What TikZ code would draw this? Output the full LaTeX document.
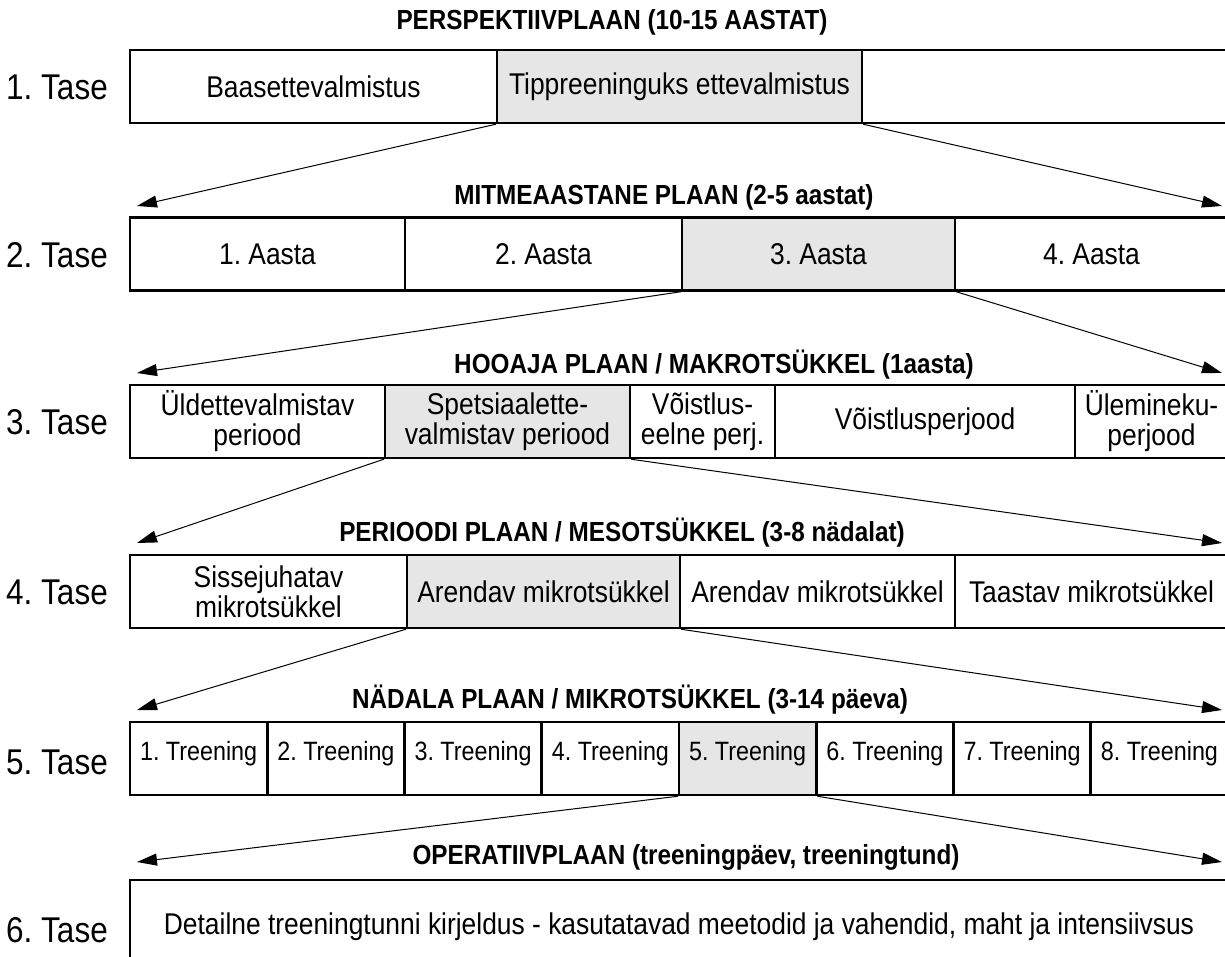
\documentclass[tikz,border=0pt]{standalone}
\usepackage{fontspec}
\setmainfont{Liberation Sans}[FakeStretch=0.88]
\usetikzlibrary{arrows.meta}
\definecolor{selgrey}{HTML}{E6E6E6}
\frenchspacing

\begin{document}
\begin{tikzpicture}[x=1pt, y=-1pt]
\useasboundingbox (0,0) rectangle (1225,957);
\clip (0,0) rectangle (1225,957);

\tikzset{cell/.style={draw, line width=2.5pt, inner sep=0pt, minimum height=73pt, align=center, font=\fontsize{30}{30}\selectfont}}
\tikzset{selcell/.style={cell, fill=selgrey}}
\tikzset{trcell/.style={cell, minimum width=137.25pt, text depth=16pt, font=\fontsize{26.5}{30}\selectfont}}
\tikzset{level/.style={font=\fontsize{35.8}{40}\selectfont}}
\tikzset{plan/.style={font=\bfseries\fontsize{27.6}{30}\selectfont}}
\tikzset{zoomarrow/.style={-{Triangle[length=20pt,width=12pt]}, line width=1pt}}

% level labels
\node[level] (lev1) at (57,87) {1. Tase};
\node[level] (lev2) at (57,255) {2. Tase};
\node[level] (lev3) at (57,422) {3. Tase};
\node[level] (lev4) at (57,592) {4. Tase};
\node[level] (lev5) at (57,762) {5. Tase};
\node[level] (lev6) at (57,930) {6. Tase};

% titles
\node[plan] (plan1) at (612,22) {PERSPEKTIIVPLAAN (10-15 AASTAT)};
\node[plan] (plan2) at (664,197) {MITMEAASTANE PLAAN (2-5 aastat)};
\node[plan] (plan3) at (714,365) {HOOAJA PLAAN / MAKROTSÜKKEL (1aasta)};
\node[plan] (plan4) at (622,533) {PERIOODI PLAAN / MESOTSÜKKEL (3-8 nädalat)};
\node[plan] (plan5) at (630,700) {NÄDALA PLAAN / MIKROTSÜKKEL (3-14 päeva)};
\node[plan] (plan6) at (686,857) {OPERATIIVPLAAN (treeningpäev, treeningtund)};

% 1. tase
\node[cell, minimum width=367pt] (base) at (313.5,86.5) {Baasettevalmistus};
\node[selcell, minimum width=365pt] (tipp) at (679.5,86.5) {Tippreeninguks ettevalmistus};
\node[cell, minimum width=366pt] (rest) at (1045,86.5) {};

% 2. tase
\node[cell, minimum width=275pt] (year1) at (267.5,254) {1. Aasta};
\node[cell, minimum width=277pt] (year2) at (543.5,254) {2. Aasta};
\node[selcell, minimum width=273pt] (year3) at (818.5,254) {3. Aasta};
\node[cell, minimum width=273pt] (year4) at (1091.5,254) {4. Aasta};

% 3. tase
\node[cell, minimum width=255pt] (per1) at (257.5,421.5) {Üldettevalmistav\\periood};
\node[selcell, minimum width=245pt] (per2) at (507.5,421.5) {Spetsiaalette-\\valmistav periood};
\node[cell, minimum width=145pt] (per3) at (702.5,421.5) {Võistlus-\\eelne perj.};
\node[cell, minimum width=300pt] (per4) at (925,421.5) {Võistlusperjood};
\node[cell, minimum width=153pt] (per5) at (1151.5,421.5) {Ülemineku-\\perjood};

% 4. tase
\node[cell, minimum width=277pt] (meso1) at (268.5,591.5) {Sissejuhatav\\mikrotsükkel};
\node[selcell, minimum width=273pt] (meso2) at (543.5,591.5) {Arendav mikrotsükkel};
\node[cell, minimum width=275pt] (meso3) at (817.5,591.5) {Arendav mikrotsükkel};
\node[cell, minimum width=273pt] (meso4) at (1091.5,591.5) {Taastav mikrotsükkel};

% 5. tase
\node[trcell] (tr1) at (198.6,758.5) {1. Treening};
\node[trcell] (tr2) at (335.9,758.5) {2. Treening};
\node[trcell] (tr3) at (473.1,758.5) {3. Treening};
\node[trcell] (tr4) at (610.4,758.5) {4. Treening};
\node[trcell, fill=selgrey] (tr5) at (747.6,758.5) {5. Treening};
\node[trcell] (tr6) at (884.9,758.5) {6. Treening};
\node[trcell] (tr7) at (1022.1,758.5) {7. Treening};
\node[trcell] (tr8) at (1159.4,758.5) {8. Treening};

% 6. tase
\node[cell, minimum width=1098pt, minimum height=94pt] (oper) at (679,927) {Detailne treeningtunni kirjeldus - kasutatavad meetodid ja vahendid, maht ja intensiivsus};

% arrow tips
\coordinate (l2) at (137,206);
\coordinate (r2) at (1222,206);
\coordinate (l3) at (137,373);
\coordinate (r3) at (1222,373);
\coordinate (l4) at (137,543);
\coordinate (r4) at (1222,543);
\coordinate (l5) at (137,710);
\coordinate (r5) at (1222,710);
\coordinate (l6) at (137,862);
\coordinate (r6) at (1222,862);

\path (tipp.south west) edge [zoomarrow] (l2);
\path (tipp.south east) edge [zoomarrow] (r2);
\path (year3.south west) edge [zoomarrow] (l3);
\path (year3.south east) edge [zoomarrow] (r3);
\path (per2.south west) edge [zoomarrow] (l4);
\path (per2.south east) edge [zoomarrow] (r4);
\path (meso2.south west) edge [zoomarrow] (l5);
\path (meso2.south east) edge [zoomarrow] (r5);
\path (tr5.south west) edge [zoomarrow] (l6);
\path (tr5.south east) edge [zoomarrow] (r6);
\end{tikzpicture}
\end{document}
